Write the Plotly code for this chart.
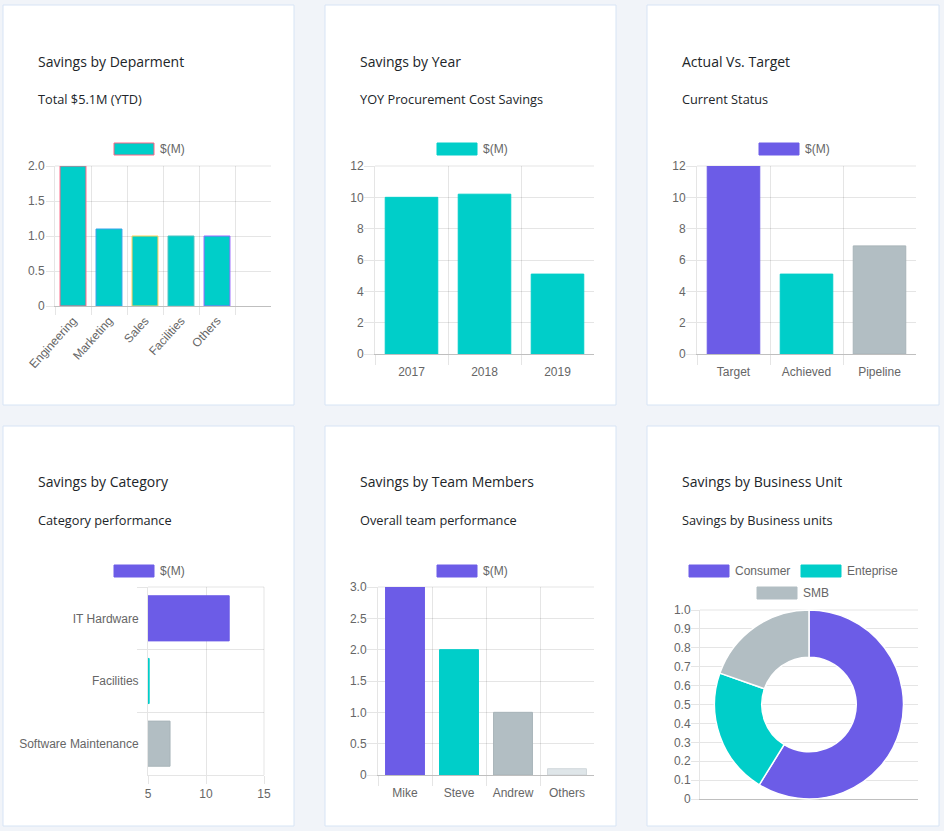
import plotly.graph_objects as go

W, H = 944, 831

# ---------------- data ----------------
series_name = "$(M)"

dept_labels = ["Engineering", "Marketing", "Sales", "Facilities", "Others"]
dept_values = [2.0, 1.1, 1.0, 1.0, 1.0]
dept_borders = ["#ff6384", "#36a2eb", "#ffce56", "#4bc0c0", "#9966ff"]
dept_ticks = [0, 0.5, 1.0, 1.5, 2.0]
dept_ticktext = ["0", "0.5", "1.0", "1.5", "2.0"]

year_labels = ["2017", "2018", "2019"]
year_values = [10.0, 10.2, 5.1]
year_ticks = [0, 2, 4, 6, 8, 10, 12]
year_ticktext = ["0", "2", "4", "6", "8", "10", "12"]

target_labels = ["Target", "Achieved", "Pipeline"]
target_values = [12.0, 5.1, 6.9]
target_ticks = [0, 2, 4, 6, 8, 10, 12]
target_ticktext = ["0", "2", "4", "6", "8", "10", "12"]

cat_labels = ["IT Hardware", "Facilities", "Software Maintenance"]
cat_values = [12.0, 5.1, 6.9]
cat_ticks = [5, 10, 15]
cat_ticktext = ["5", "10", "15"]

team_labels = ["Mike", "Steve", "Andrew", "Others"]
team_values = [3.0, 2.0, 1.0, 0.1]
team_ticks = [0, 0.5, 1.0, 1.5, 2.0, 2.5, 3.0]
team_ticktext = ["0", "0.5", "1.0", "1.5", "2.0", "2.5", "3.0"]

bu_labels = ["Consumer", "Enteprise", "SMB"]
bu_values = [3.0, 1.1, 1.0]
bu_ticks = [0, 0.1, 0.2, 0.3, 0.4, 0.5, 0.6, 0.7, 0.8, 0.9, 1.0]
bu_ticktext = ["0", "0.1", "0.2", "0.3", "0.4", "0.5", "0.6", "0.7", "0.8", "0.9", "1.0"]

titles = ["Savings by Deparment", "Savings by Year", "Actual Vs. Target",
          "Savings by Category", "Savings by Team Members", "Savings by Business Unit"]
subtitles = ["Total $5.1M (YTD)", "YOY Procurement Cost Savings", "Current Status",
             "Category performance", "Overall team performance", "Savings by Business units"]

# ---------------- style ----------------
PURPLE = "#6c5ce7"
TEAL = "#00cec9"
GRAY = "#b2bec3"
LIGHT = "#dfe6e9"
GRID = "rgba(0,0,0,0.1)"
ZERO = "rgba(0,0,0,0.25)"
PAGE_BG = "#f1f4f9"
CARD_LINE = "#d7e4f5"
CHART_FONT = "Helvetica Neue, Helvetica, Arial, Liberation Sans, sans-serif"
TICKFONT = dict(family=CHART_FONT, size=12, color="#666666")
TITLE_FONT = "Open Sans, Noto Sans, sans-serif"


def dx(p):
    return p / W


def dy(p):
    return 1 - p / H


def cat_xaxis(x0, x1, anchor, labels, nslots, angle=0, ticklen=10, labelgap=7):
    return dict(
        domain=[dx(x0), dx(x1)], anchor=anchor, range=[-0.5, nslots - 0.5],
        tickmode="array", tickvals=list(range(len(labels))), ticktext=labels,
        ticks="outside", ticklen=labelgap, tickcolor="rgba(0,0,0,0)",
        showgrid=False, zeroline=False, showline=True, linecolor=ZERO, linewidth=1,
        tickfont=TICKFONT, tickangle=angle, fixedrange=True, automargin=False,
        minor=dict(tickmode="array", tickvals=[i - 0.5 for i in range(nslots)],
                   ticks="outside", ticklen=ticklen, tickcolor=GRID, tickwidth=1,
                   showgrid=True, gridcolor=GRID, gridwidth=1),
    )


def val_yaxis(y_top, y_bot, anchor, rng, tickvals, ticktext, ticklen=10, standoff=-2):
    return dict(
        domain=[dy(y_bot), dy(y_top)], anchor=anchor, range=rng,
        tickmode="array", tickvals=tickvals, ticktext=ticktext,
        ticks="outside", ticklen=ticklen, tickcolor=GRID, tickwidth=1,
        showgrid=True, gridcolor=GRID, gridwidth=1, zeroline=False,
        showline=True, linecolor=GRID, linewidth=1, ticklabelstandoff=standoff,
        tickfont=TICKFONT, fixedrange=True, automargin=False,
    )


fig = go.Figure()

# Chart 1: department
fig.add_trace(go.Bar(
    x=list(range(len(dept_labels))), y=dept_values, name=series_name,
    marker=dict(color=TEAL, line=dict(color=dept_borders, width=1)),
    xaxis="x", yaxis="y", showlegend=False, hoverinfo="y"))
# Chart 2: year
fig.add_trace(go.Bar(
    x=list(range(len(year_labels))), y=year_values, name=series_name,
    marker=dict(color=TEAL, line=dict(color=TEAL, width=1)),
    xaxis="x2", yaxis="y2", showlegend=False, hoverinfo="y"))
# Chart 3: target
fig.add_trace(go.Bar(
    x=list(range(len(target_labels))), y=target_values, name=series_name,
    marker=dict(color=[PURPLE, TEAL, GRAY], line=dict(color=[PURPLE, TEAL, "#a8b4b9"], width=1)),
    xaxis="x3", yaxis="y3", showlegend=False, hoverinfo="y"))
# Chart 4: category (horizontal)
fig.add_trace(go.Bar(
    y=list(range(len(cat_labels))), x=cat_values, orientation="h", name=series_name,
    marker=dict(color=[PURPLE, TEAL, GRAY], line=dict(color=[PURPLE, TEAL, "#a8b4b9"], width=1)),
    xaxis="x4", yaxis="y4", showlegend=False, hoverinfo="x"))
# Chart 5: team
fig.add_trace(go.Bar(
    x=list(range(len(team_labels))), y=team_values, name=series_name,
    marker=dict(color=[PURPLE, TEAL, GRAY, LIGHT], line=dict(color=[PURPLE, TEAL, "#a8b4b9", "#d0d7da"], width=1)),
    xaxis="x5", yaxis="y5", showlegend=False, hoverinfo="y"))
# Chart 6: empty axes behind doughnut
fig.add_trace(go.Scatter(x=[], y=[], xaxis="x6", yaxis="y6", showlegend=False))
fig.add_trace(go.Pie(
    labels=bu_labels, values=bu_values, hole=0.5, sort=False,
    direction="clockwise", rotation=0, textinfo="none",
    marker=dict(colors=[PURPLE, TEAL, GRAY], line=dict(color="white", width=1.5)),
    domain=dict(x=[dx(700), dx(918)], y=[dy(799), dy(610)]),
    showlegend=False))

layout = dict(
    width=W, height=H, margin=dict(l=0, r=0, t=0, b=0, pad=0, autoexpand=False),
    paper_bgcolor=PAGE_BG, plot_bgcolor="rgba(0,0,0,0)",
    bargap=0.28, hovermode="closest",
    xaxis=cat_xaxis(55, 271, "y", dept_labels, 6, angle=-48, ticklen=8, labelgap=2),
    yaxis=val_yaxis(166, 306, "x", [0, 2.0], dept_ticks, dept_ticktext, ticklen=8, standoff=-1),
    xaxis2=cat_xaxis(375, 594, "y2", year_labels, 3),
    yaxis2=val_yaxis(166, 354, "x2", [0, 12], year_ticks, year_ticktext),
    xaxis3=cat_xaxis(697, 916, "y3", target_labels, 3),
    yaxis3=val_yaxis(166, 354, "x3", [0, 12], target_ticks, target_ticktext),
    xaxis5=cat_xaxis(378, 594, "y5", team_labels, 4),
    yaxis5=val_yaxis(587, 775, "x5", [0, 3.0], team_ticks, team_ticktext),
)

# Chart 4 axes
layout["xaxis4"] = dict(
    domain=[dx(148), dx(264)], anchor="y4", range=[5, 15],
    tickmode="array", tickvals=cat_ticks, ticktext=cat_ticktext,
    ticks="outside", ticklen=8, tickcolor=GRID, showgrid=True, gridcolor=GRID,
    zeroline=False, showline=True, linecolor=GRID, tickfont=TICKFONT, fixedrange=True,
    automargin=False)
layout["yaxis4"] = dict(
    domain=[dy(775), dy(587)], anchor="x4", range=[2.5, -0.5],
    tickmode="array", tickvals=list(range(len(cat_labels))), ticktext=cat_labels,
    ticks="outside", ticklen=8, tickcolor="rgba(0,0,0,0)", showgrid=False,
    zeroline=False, showline=True, linecolor=GRID, tickfont=TICKFONT, fixedrange=True,
    automargin=False, ticklabelstandoff=-2,
    minor=dict(tickmode="array", tickvals=[-0.5, 0.5, 1.5], ticks="outside", ticklen=10,
               tickcolor=GRID, showgrid=True, gridcolor=GRID, gridwidth=1))

# Chart 6 axes
layout["xaxis6"] = dict(
    domain=[dx(700), dx(918)], anchor="y6", range=[0, 1], showticklabels=False,
    ticks="", showgrid=False, zeroline=False, showline=True, linecolor=ZERO, fixedrange=True,
    automargin=False)
layout["yaxis6"] = val_yaxis(610, 799, "x6", [0, 1.0], bu_ticks, bu_ticktext, ticklen=8)

fig.update_layout(**layout)

shapes = []
annotations = []

# cards
card_cols = [(3, 294), (325, 616), (647, 939)]
card_rows = [(5, 405), (426, 826)]
for (ry0, ry1) in card_rows:
    for (cx0, cx1) in card_cols:
        shapes.append(dict(type="rect", xref="paper", yref="paper",
                           x0=dx(cx0), x1=dx(cx1), y0=dy(ry1), y1=dy(ry0),
                           fillcolor="white", line=dict(color=CARD_LINE, width=1), layer="below"))

# titles
idx = 0
for ri, (ry0, ry1) in enumerate(card_rows):
    for ci, (cx0, cx1) in enumerate(card_cols):
        tx = cx0 + 33
        annotations.append(dict(xref="paper", yref="paper", x=dx(tx), y=dy(ry0 + 56),
                                text=titles[idx], showarrow=False, xanchor="left", yanchor="middle",
                                font=dict(family=TITLE_FONT, size=14, color="#212529")))
        annotations.append(dict(xref="paper", yref="paper", x=dx(tx), y=dy(ry0 + 94),
                                text=subtitles[idx], showarrow=False, xanchor="left", yanchor="middle",
                                font=dict(family=TITLE_FONT, size=12.75, color="#212529")))
        idx += 1

# top / right edge lines (chart.js draws grid lines at the outer ticks)
for ax in ["", "2", "3", "5", "6"]:
    shapes.append(dict(type="line", xref="x%s domain" % ax, yref="y%s domain" % ax,
                       x0=0, x1=1, y0=1, y1=1, line=dict(color=GRID, width=1), layer="below"))
shapes.append(dict(type="line", xref="x4 domain", yref="y4 domain",
                   x0=0, x1=1, y0=1, y1=1, line=dict(color=GRID, width=1), layer="below"))
shapes.append(dict(type="line", xref="x4 domain", yref="y4 domain",
                   x0=1, x1=1, y0=0, y1=1, line=dict(color=GRID, width=1), layer="below"))


# legends
def legend_item(x0, y_mid, fill, border, text):
    shapes.append(dict(type="rect", xref="paper", yref="paper",
                       x0=dx(x0), x1=dx(x0 + 40), y0=dy(y_mid + 6), y1=dy(y_mid - 6),
                       fillcolor=fill, line=dict(color=border, width=1), layer="above"))
    annotations.append(dict(xref="paper", yref="paper", x=dx(x0 + 44), y=dy(y_mid),
                            text=text, showarrow=False, xanchor="left", yanchor="middle",
                            font=dict(family=CHART_FONT, size=12, color="#666666")))


legend_item(114, 149, TEAL, dept_borders[0], series_name)
legend_item(437, 149, TEAL, TEAL, series_name)
legend_item(759, 149, PURPLE, PURPLE, series_name)
legend_item(114, 571, PURPLE, PURPLE, series_name)
legend_item(437, 571, PURPLE, PURPLE, series_name)
legend_item(689, 571, PURPLE, PURPLE, bu_labels[0])
legend_item(801, 571, TEAL, TEAL, bu_labels[1])
legend_item(757, 593, GRAY, GRAY, bu_labels[2])

fig.update_layout(shapes=shapes, annotations=annotations)

fig.write_html("out.html", config={"displayModeBar": False},
               post_script="document.body.style.margin='0';document.body.style.overflow='hidden';")
